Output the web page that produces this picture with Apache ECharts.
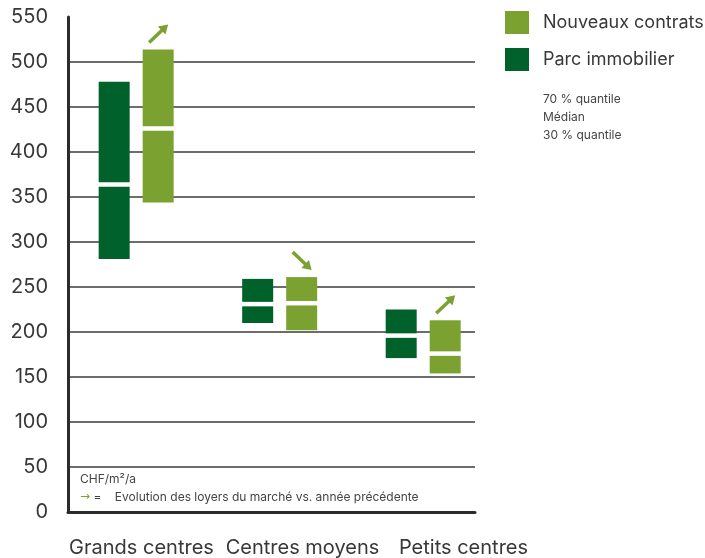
<!DOCTYPE html>
<html>
<head>
<meta charset="utf-8">
<script src="https://cdn.jsdelivr.net/npm/echarts@6/dist/echarts.min.js"></script>
<style>
  html, body { margin: 0; padding: 0; background: #fff; }
  #loyers { width: 705px; height: 558px; }
</style>
</head>
<body>
<div id="loyers"></div>
<script>
// categories + quantiles (CHF/m2/a)
var categories = ['Grands centres', 'Centres moyens', 'Petits centres']
var parcQ30 = [281, 210, 171]
var parcMedian = [364, 231, 196]
var parcQ70 = [478, 259, 225]
var nouveauxQ30 = [344, 202, 154]
var nouveauxMedian = [426, 232, 176]
var nouveauxQ70 = [514, 261, 213]
// 1 = hausse, -1 = baisse
var trend = [1, -1, 1]
var yTicks = [0, 50, 100, 150, 200, 250, 300, 350, 400, 450, 500, 550]
var quantileNotes = ['70 % quantile', 'Médian', '30 % quantile']

var darkGreen = '#00612a'
var lightGreen = '#7ba231'
var textColor = '#383838'
var font = 'Inter, "Liberation Sans", sans-serif'
var barW = 31
var gap = 4.5

function rows(lo, md, hi) {
  return categories.map(function (c, i) {
    return [i, lo[i], md[i], hi[i]]
  })
}

// deux rectangles séparés par un trait blanc à la médiane
function boxItem(offset, color) {
  return function (params, api) {
    var i = api.value(0)
    var lo = api.coord([i, api.value(1)])
    var md = api.coord([i, api.value(2)])
    var hi = api.coord([i, api.value(3)])
    var x = lo[0] + offset - barW / 2
    return {
      type: 'group',
      children: [
        { type: 'rect', shape: { x: x, y: md[1] + gap / 2, width: barW, height: lo[1] - md[1] - gap / 2 }, style: { fill: color } },
        { type: 'rect', shape: { x: x, y: hi[1], width: barW, height: md[1] - gap / 2 - hi[1] }, style: { fill: color } }
      ]
    }
  }
}

function arrowItem(params, api) {
  var i = api.value(0)
  var top = api.coord([i, api.value(1)])
  var dir = api.value(2)
  var cx = top[0] + 22
  var tail, head
  if (dir > 0) {
    tail = [cx - 9, top[1] - 7]
    head = [cx + 10, top[1] - 25]
  } else {
    tail = [cx - 9, top[1] - 25]
    head = [cx + 10, top[1] - 7]
  }
  var dx = head[0] - tail[0], dy = head[1] - tail[1]
  var len = Math.sqrt(dx * dx + dy * dy)
  dx = dx / len; dy = dy / len
  var nx = -dy, ny = dx
  var b = [head[0] - dx * 9, head[1] - dy * 9]
  return {
    type: 'group',
    children: [
      { type: 'line', shape: { x1: tail[0], y1: tail[1], x2: head[0] - dx * 6, y2: head[1] - dy * 6 }, style: { stroke: lightGreen, lineWidth: 3.5 } },
      { type: 'polygon', shape: { points: [head, [b[0] + nx * 5.5, b[1] + ny * 5.5], [b[0] - nx * 5.5, b[1] - ny * 5.5]] }, style: { fill: lightGreen } }
    ]
  }
}

// lignes de grille : pas de ligne au sommet (550)
var gridColors = yTicks.map(function (v, k) {
  return k === yTicks.length - 1 ? 'rgba(0,0,0,0)' : '#3c3c3c'
})

var chart = echarts.init(document.getElementById('loyers'))
chart.setOption({
  animation: false,
  backgroundColor: '#fff',
  grid: [
    { left: 68, right: 230, top: 17, bottom: 46 },
    { left: 61, width: 483, top: 17, bottom: 46 }
  ],
  legend: {
    data: ['Nouveaux contrats', 'Parc immobilier'],
    orient: 'vertical',
    left: 500,
    top: 6,
    icon: 'rect',
    itemWidth: 24,
    itemHeight: 23,
    itemGap: 14,
    textStyle: { color: textColor, fontSize: 18, fontFamily: font, padding: [0, 0, 0, 9] }
  },
  xAxis: [
    {
      type: 'value',
      gridIndex: 0,
      min: -0.475,
      max: 2.361,
      axisLine: { show: true, lineStyle: { color: '#2b2b2b', width: 3 } },
      axisTick: { show: false },
      axisLabel: { show: false },
      splitLine: { show: false }
    },
    {
      type: 'category',
      gridIndex: 1,
      data: categories,
      axisLine: { show: false },
      axisTick: { show: false },
      axisLabel: { interval: 0, margin: 26, color: textColor, fontSize: 20, fontFamily: font }
    }
  ],
  yAxis: [
    {
      type: 'value',
      gridIndex: 0,
      min: yTicks[0],
      max: yTicks[yTicks.length - 1],
      interval: 50,
      axisLine: { show: true, onZero: false, lineStyle: { color: '#2b2b2b', width: 3 } },
      axisTick: { show: false },
      axisLabel: { margin: 20, color: textColor, fontSize: 20, fontFamily: font },
      splitLine: { show: true, lineStyle: { color: gridColors, width: 1.5 } }
    },
    { type: 'value', gridIndex: 1, show: false }
  ],
  series: [
    {
      name: 'Parc immobilier',
      type: 'custom',
      xAxisIndex: 0,
      yAxisIndex: 0,
      itemStyle: { color: darkGreen },
      renderItem: boxItem(-22, darkGreen),
      encode: { x: 0, y: [1, 2, 3] },
      data: rows(parcQ30, parcMedian, parcQ70),
      z: 3
    },
    {
      name: 'Nouveaux contrats',
      type: 'custom',
      xAxisIndex: 0,
      yAxisIndex: 0,
      itemStyle: { color: lightGreen },
      renderItem: boxItem(22, lightGreen),
      encode: { x: 0, y: [1, 2, 3] },
      data: rows(nouveauxQ30, nouveauxMedian, nouveauxQ70),
      z: 3
    },
    {
      name: 'tendance',
      type: 'custom',
      xAxisIndex: 0,
      yAxisIndex: 0,
      renderItem: arrowItem,
      encode: { x: 0, y: 1 },
      data: categories.map(function (c, i) { return [i, nouveauxQ70[i], trend[i]] }),
      z: 4
    }
  ],
  graphic: [
    {
      type: 'group',
      left: 543,
      top: 93,
      children: quantileNotes.map(function (t, k) {
        return { type: 'text', x: 0, y: k * 18, style: { text: t, fill: '#444', fontSize: 12, fontFamily: font } }
      })
    },
    {
      type: 'text',
      left: 80,
      top: 473,
      style: { text: 'CHF/m²/a', fill: '#444', fontSize: 12, fontFamily: font }
    },
    {
      type: 'text',
      left: 80,
      top: 491,
      style: {
        text: '{a|→} =    Evolution des loyers du marché vs. année précédente',
        fill: '#444',
        fontSize: 12,
        fontFamily: font,
        rich: { a: { fill: lightGreen, fontSize: 12, fontFamily: '"DejaVu Sans", sans-serif' } }
      }
    }
  ]
})
</script>
</body>
</html>
